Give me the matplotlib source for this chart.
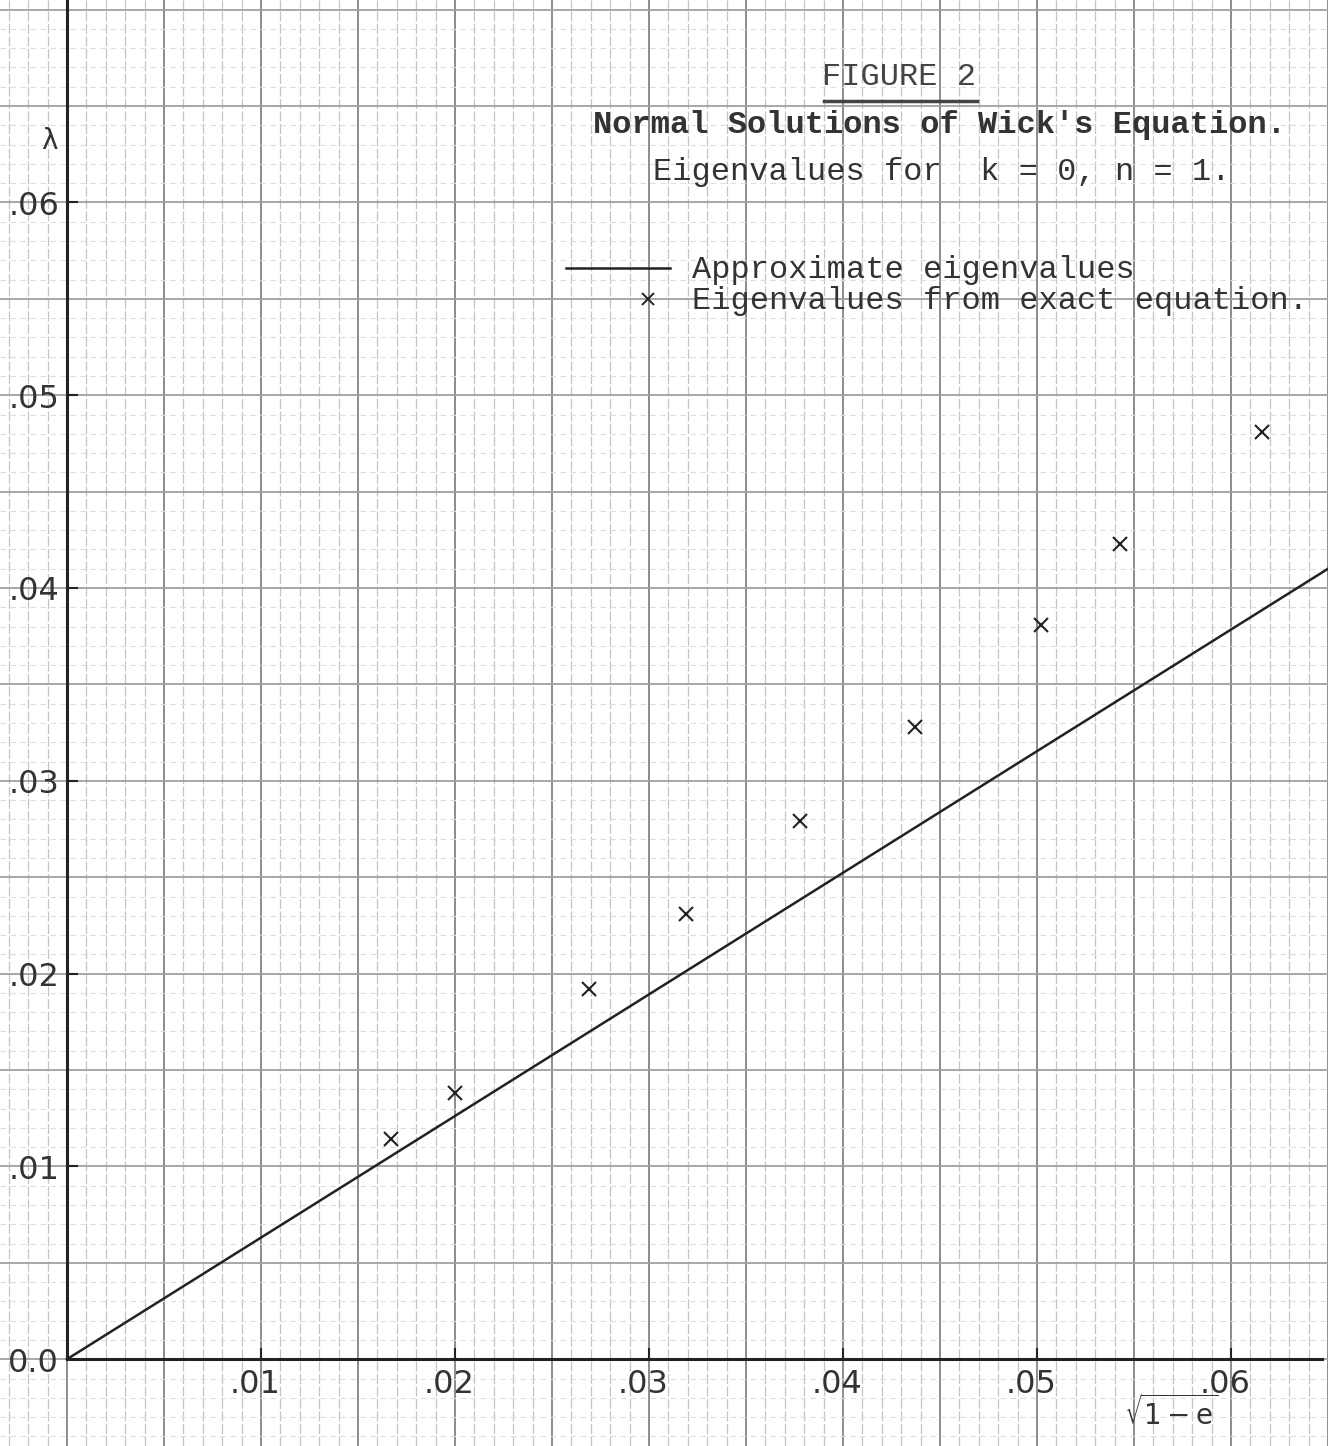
import numpy as np
import matplotlib.pyplot as plt

# values
approx_x = [0.0, 0.065]
approx_y = [0.0, 0.041]

exact_x = [0.0167, 0.0200, 0.0269, 0.0319, 0.0378, 0.0437, 0.0502, 0.0543, 0.0616]
exact_y = [0.0114, 0.0138, 0.0192, 0.0231, 0.0279, 0.0328, 0.0381, 0.0423, 0.0481]

xtick_vals = [0.01, 0.02, 0.03, 0.04, 0.05, 0.06]
xtick_text = ['.01', '.02', '.03', '.04', '.05', '.06']
ytick_vals = [0.0, 0.01, 0.02, 0.03, 0.04, 0.05, 0.06]
ytick_text = ['0.0', '.01', '.02', '.03', '.04', '.05', '.06']

typed = 'Liberation Mono'

fig = plt.figure(figsize=(13.28, 14.46), dpi=100)
ax = fig.add_axes([0, 0, 1, 1])
ax.set_xlim(-0.00345, 0.0650)
ax.set_ylim(-0.0045, 0.0705)

# graph paper grid: vertical rulings stronger than horizontal ones
for gx in np.arange(-0.003, 0.0651, 0.001):
    major = abs(round(gx / 0.005) * 0.005 - gx) < 1e-9
    ax.axvline(gx, color='#8c8c8c' if major else '#c4c4c4',
               lw=1.4 if major else 0.9, ls='-' if major else (0, (8, 2)), zorder=0)
for gy in np.arange(-0.004, 0.0706, 0.001):
    major = abs(round(gy / 0.005) * 0.005 - gy) < 1e-9
    ax.axhline(gy, color='#a0a0a0' if major else '#dedede',
               lw=1.3 if major else 0.8, ls='-' if major else (0, (5, 4)), zorder=0)

# axes through the origin
for s in ['top', 'right']:
    ax.spines[s].set_visible(False)
ax.spines['left'].set_position(('data', 0))
ax.spines['bottom'].set_position(('data', 0))
ax.spines['left'].set_bounds(0, 0.0705)
ax.spines['bottom'].set_bounds(0, 0.0647)
for s in ['left', 'bottom']:
    ax.spines[s].set_linewidth(2.2)
    ax.spines[s].set_color('#222222')
ax.set_xticks(xtick_vals)
ax.set_yticks(ytick_vals[1:])
ax.set_xticklabels([])
ax.set_yticklabels([])
ax.tick_params(direction='in', length=8, width=1.5, colors='#222222')

for v, t in zip(xtick_vals, xtick_text):
    ax.text(v - 0.0003, -0.0013, t, fontsize=23, color='#333333', ha='center', va='center')
for v, t in zip(ytick_vals, ytick_text):
    ax.text(-0.0004, v - 0.0002, t, fontsize=23, color='#333333', ha='right', va='center')

ax.text(-0.0005, 0.0632, 'λ', fontsize=20, color='#333333', ha='right', va='center')
ax.text(0.0569, -0.0028, r'$\sqrt{1-\mathrm{e}}$', fontsize=20, color='#333333',
        ha='center', va='center')

# curves
ax.plot(approx_x, approx_y, color='#222222', lw=1.8, zorder=3)
ax.plot(exact_x, exact_y, 'x', color='#222222', ms=10, mew=1.5, zorder=4)

# typed annotations
ax.text(0.0429, 0.0665, 'FIGURE 2', fontsize=23, family=typed, color='#444444',
        ha='center', va='center')
ax.plot([0.0390, 0.0469], [0.06525, 0.06525], color='#444444', lw=2.5)
ax.text(0.0271, 0.0640, "Normal Solutions of Wick's Equation.", fontsize=23,
        family=typed, weight='bold', color='#333333', ha='left', va='center')
ax.text(0.0302, 0.0616, 'Eigenvalues for  k = 0, n = 1.', fontsize=23,
        family=typed, color='#333333', ha='left', va='center')

ax.plot([0.0257, 0.0311], [0.0566, 0.0566], color='#222222', lw=1.8)
ax.text(0.0322, 0.0565, 'Approximate eigenvalues', fontsize=23, family=typed,
        color='#333333', ha='left', va='center')
ax.plot([0.02995], [0.0550], 'x', color='#222222', ms=9, mew=1.4)
ax.text(0.0322, 0.0549, 'Eigenvalues from exact equation.', fontsize=23, family=typed,
        color='#333333', ha='left', va='center')

fig.savefig('out.png', dpi=100, facecolor='white')
